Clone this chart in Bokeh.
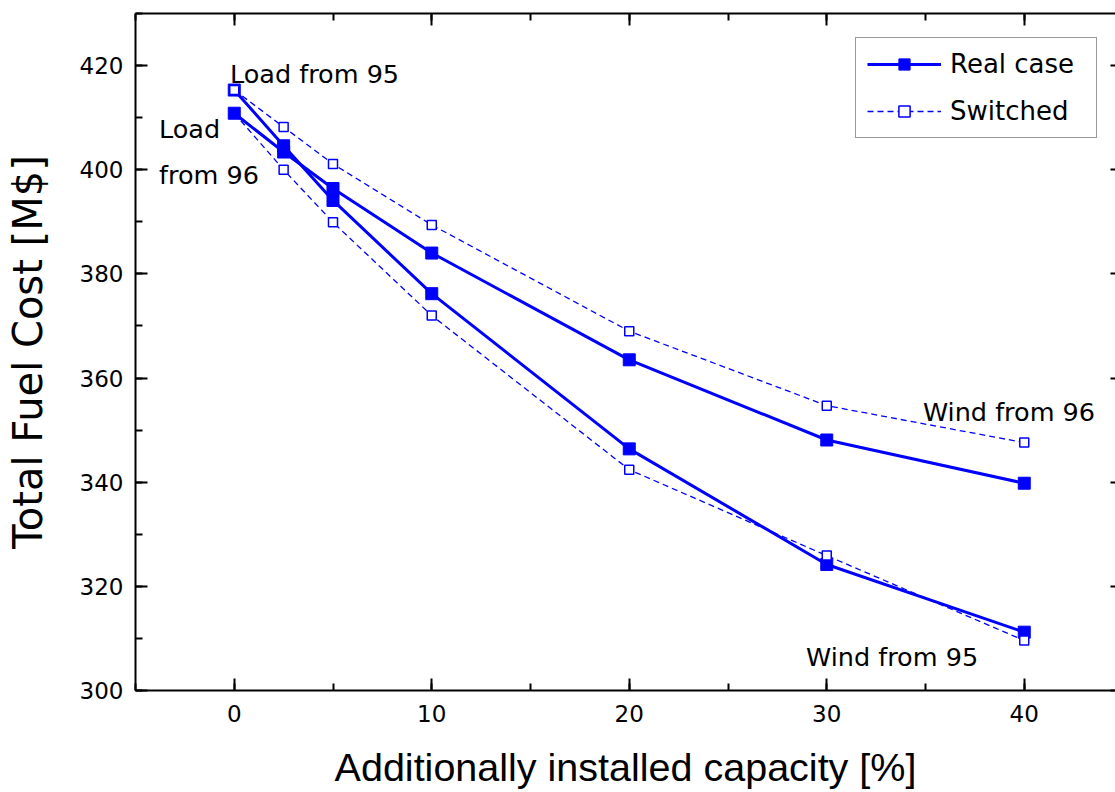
from bokeh.plotting import figure
from bokeh.models import (Range1d, LinearAxis, SingleIntervalTicker, Legend,
                          LegendItem, Label)
from bokeh.embed import file_html
from bokeh.resources import INLINE

# Additionally installed wind capacity [%]
capacity = [0, 2.5, 5, 10, 20, 30, 40]

# Total fuel cost [M$] — real cases (load and wind from the same year)
real_load95_wind95 = [415.3, 404.6, 394.1, 376.2, 346.4, 324.2, 311.2]
real_load96_wind96 = [410.85, 403.4, 396.4, 384.0, 363.5, 348.1, 339.8]

# Switched cases (load from one year, wind from the other)
switched_load95_wind96 = [415.3, 408.2, 401.1, 389.4, 369.0, 354.7, 347.6]
switched_load96_wind95 = [410.85, 400.0, 389.9, 372.0, 342.4, 325.9, 309.6]

x_tick_step = 10
y_tick_step = 20

BLUE = "#0000FF"
TICK_FONT = "DejaVu Sans"

p = figure(width=1115, height=792,
           x_range=Range1d(-5, 44.62), y_range=Range1d(300, 430),
           output_backend="svg", toolbar_location=None,
           x_axis_location=None, y_axis_location=None,
           min_border_left=135, min_border_right=0,
           min_border_top=13, min_border_bottom=102)
p.background_fill_color = "white"
p.border_fill_color = "white"
p.outline_line_color = None
p.xgrid.visible = False
p.ygrid.visible = False


def style_axis(ax):
    ax.axis_line_width = 2
    ax.axis_line_color = "black"
    ax.major_tick_line_width = 2
    ax.minor_tick_line_width = 2
    ax.major_tick_line_color = "black"
    ax.minor_tick_line_color = "black"
    ax.major_tick_in = 12
    ax.major_tick_out = 0
    ax.minor_tick_in = 7
    ax.minor_tick_out = 0
    ax.major_label_text_font = TICK_FONT
    ax.major_label_text_font_size = "23px"
    ax.major_label_text_color = "black"
    ax.axis_label_text_color = "black"
    ax.axis_label_text_font_style = "normal"


def hide_labels(ax):
    # tick marks only: labels are not painted and take no room
    ax.major_label_text_color = None
    ax.major_label_text_font_size = "1px"
    ax.major_label_standoff = 0


x_ticker = SingleIntervalTicker(interval=x_tick_step, num_minor_ticks=2)
y_ticker = SingleIntervalTicker(interval=y_tick_step, num_minor_ticks=2)

bottom = LinearAxis(ticker=x_ticker, axis_label="Additionally installed capacity [%]")
style_axis(bottom)
bottom.major_label_standoff = 14
bottom.major_label_text_line_height = 1.0
bottom.axis_label_standoff = 20
bottom.axis_label_text_line_height = 1.0
bottom.axis_label_text_font = "Liberation Sans"
bottom.axis_label_text_font_size = "39.5px"
p.add_layout(bottom, "below")

left = LinearAxis(ticker=y_ticker, axis_label="Total Fuel Cost [M$]")
style_axis(left)
left.major_label_standoff = 12
left.axis_label_standoff = 26
left.axis_label_text_line_height = 1.0
left.axis_label_text_font = "DejaVu Sans"
left.axis_label_text_font_size = "40px"
p.add_layout(left, "left")

top = LinearAxis(ticker=SingleIntervalTicker(interval=x_tick_step, num_minor_ticks=2))
style_axis(top)
hide_labels(top)
p.add_layout(top, "above")

right = LinearAxis(ticker=SingleIntervalTicker(interval=y_tick_step, num_minor_ticks=2))
style_axis(right)
hide_labels(right)
right.axis_line_color = None
right.major_tick_in = 5
right.minor_tick_line_color = None
p.add_layout(right, "right")


def solid_series(values):
    ln = p.line(capacity, values, line_color=BLUE, line_width=3)
    mk = p.scatter(capacity, values, marker="square", size=12,
                   fill_color=BLUE, line_color=BLUE, line_width=1)
    return ln, mk


def dashed_series(values):
    ln = p.line(capacity, values, line_color=BLUE, line_width=1.3,
                line_dash="6 4")
    mk = p.scatter(capacity, values, marker="square", size=9,
                   fill_color="white", line_color=BLUE, line_width=1.5)
    return ln, mk


real95 = solid_series(real_load95_wind95)
sw95 = dashed_series(switched_load95_wind96)
sw96 = dashed_series(switched_load96_wind95)
real96 = solid_series(real_load96_wind96)

legend = Legend(items=[LegendItem(label="Real case", renderers=list(real95)),
                       LegendItem(label="Switched", renderers=list(sw95))],
                location=(720, 552))
legend.label_text_font = TICK_FONT
legend.label_text_font_size = "26px"
legend.label_text_color = "black"
legend.glyph_width = 74
legend.glyph_height = 28
legend.label_height = 28
legend.label_width = 135
legend.label_standoff = 9
legend.spacing = 17
legend.padding = 11
legend.border_line_color = "#333333"
legend.border_line_width = 1.5
legend.background_fill_color = "white"
legend.background_fill_alpha = 1.0
p.add_layout(legend)

notes = [
    ("Load from 95", -0.22, 418.3),
    ("Load", -3.81, 407.9),
    ("from 96", -3.81, 398.9),
    ("Wind from 96", 34.87, 353.4),
    ("Wind from 95", 28.95, 306.5),
]
for txt, nx, ny in notes:
    p.add_layout(Label(x=nx, y=ny, text=txt, text_font=TICK_FONT,
                       text_font_size="25.5px", text_color="black",
                       text_baseline="alphabetic"))

open("out.html", "w").write(file_html(p, INLINE))
